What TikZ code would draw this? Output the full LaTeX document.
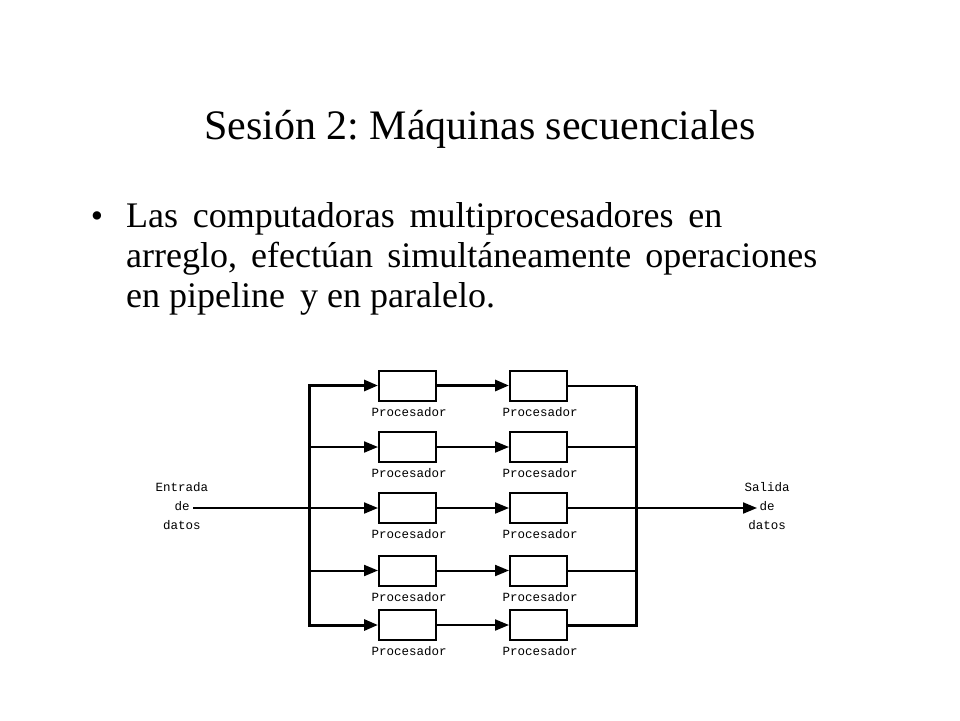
\documentclass[tikz,border=0pt]{standalone}
\usepackage{fontspec}
\setmainfont{Liberation Serif}
\newfontfamily\monofont{Liberation Mono}
\usetikzlibrary{arrows.meta}
\frenchspacing

\begin{document}
\begin{tikzpicture}[x=1pt,y=-1pt,>={Triangle[length=14pt,width=11pt]},
  box/.style={draw,line width=2pt,minimum width=57pt,minimum height=30pt,inner sep=0pt},
  plabel/.style={anchor=base,inner sep=0pt,font=\monofont\fontsize{12.5}{19}\selectfont},
  iolabel/.style={align=center,inner sep=0pt,font=\monofont\fontsize{12.5}{19}\selectfont},
  wire/.style={line width=2pt},
  bus/.style={line width=3pt}]
 \useasboundingbox (0,0) rectangle (960,720);
 %title and bullet
 \node[anchor=base] (title) at (480,139) {\fontsize{42}{50}\selectfont Sesión 2: Máquinas secuenciales};
 \node[anchor=base] (dot) at (97,227) {\fontsize{35}{40}\selectfont •};
 \node[anchor=base west,inner sep=0pt] (L1) at (126,227) {\fontsize{36}{40}\selectfont\makebox[596pt][s]{Las computadoras multiprocesadores en}};
 \node[anchor=base west,inner sep=0pt] (L2) at (126,267) {\fontsize{36}{40}\selectfont\makebox[691pt][s]{arreglo, efectúan simultáneamente operaciones}};
 \node[anchor=base west,inner sep=0pt] (L3) at (126,307) {\fontsize{36}{40}\selectfont en pipeline\hspace{6pt} y en paralelo.};

 %processors, first column
 \node[box] (P11) at (407.5,385.5) {};
 \node[box] (P21) at (407.5,447) {};
 \node[box] (P31) at (407.5,508) {};
 \node[box] (P41) at (407.5,570.5) {};
 \node[box] (P51) at (407.5,625) {};
 \node[plabel] (T11) at (409,416) {Procesador};
 \node[plabel] (T21) at (409,477.5) {Procesador};
 \node[plabel] (T31) at (409,538.5) {Procesador};
 \node[plabel] (T41) at (409,601) {Procesador};
 \node[plabel] (T51) at (409,655.5) {Procesador};

 %processors, second column
 \node[box] (P12) at (538.5,385.5) {};
 \node[box] (P22) at (538.5,447) {};
 \node[box] (P32) at (538.5,508) {};
 \node[box] (P42) at (538.5,570.5) {};
 \node[box] (P52) at (538.5,625) {};
 \node[plabel] (T12) at (540,416) {Procesador};
 \node[plabel] (T22) at (540,477.5) {Procesador};
 \node[plabel] (T32) at (540,538.5) {Procesador};
 \node[plabel] (T42) at (540,601) {Procesador};
 \node[plabel] (T52) at (540,655.5) {Procesador};

 %input and output
 \node[iolabel] (IN) at (182,506) {Entrada\\de\\datos};
 \node[iolabel] (OUT) at (767,506) {Salida\\de\\datos};
 \coordinate (in) at (193,508);
 \coordinate (out) at (757,508);
 \coordinate (BL) at (309,508);
 \coordinate (BR) at (636,508);

 %left bus
 \draw[wire,->] (in) -- (P31);
 \draw[bus,<->] (P11) -- (BL |- P11) -- (BL |- P51) -- (P51);
 \draw[wire,->] (BL |- P21) -- (P21);
 \draw[wire,->] (BL |- P41) -- (P41);

 %pipeline stages
 \draw[bus,->] (P11) -- (P12);
 \draw[wire,->] (P21) -- (P22);
 \draw[wire,->] (P31) -- (P32);
 \draw[wire,->] (P41) -- (P42);
 \draw[wire,->] (P51) -- (P52);

 %right bus
 \draw[wire] (P12) -- (BR |- P12);
 \draw[bus] (BR |- P12) -- (BR |- P52) -- (P52);
 \draw[wire] (P22) -- (BR |- P22);
 \draw[wire] (P42) -- (BR |- P42);
 \draw[wire,->] (P32) -- (out);
\end{tikzpicture}
\end{document}
